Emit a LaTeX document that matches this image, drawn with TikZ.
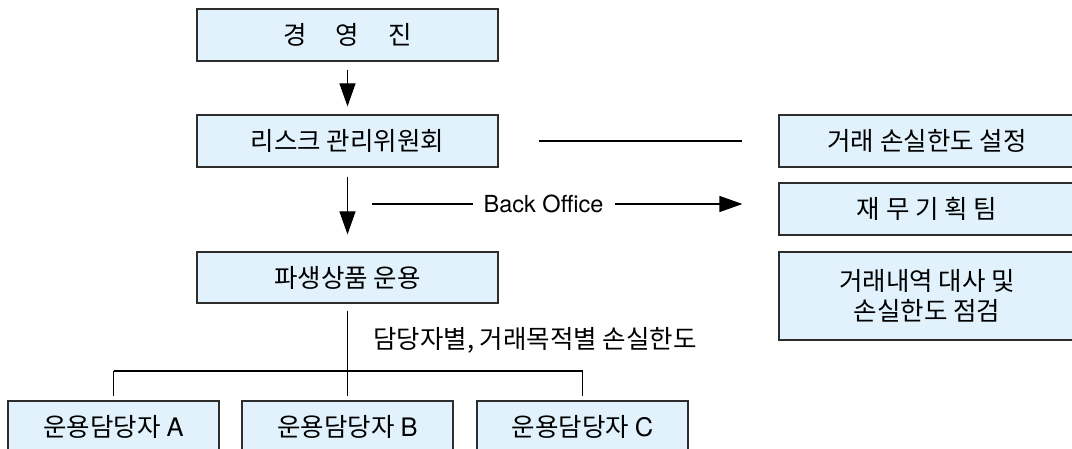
\documentclass[tikz,border=0pt]{standalone}
\usepackage{fontspec}
\setmainfont{TeX Gyre Heros}
\newfontfamily\kr{Noto Sans CJK KR}
\usetikzlibrary{arrows.meta}
\definecolor{boxfill}{RGB}{225,242,252}
\definecolor{boxline}{RGB}{45,45,45}
\tikzset{
  orgbox/.style={draw=boxline, line width=1.2pt, fill=boxfill, rectangle, inner sep=0pt,
    font=\kr\fontsize{25.5}{30}\selectfont, align=center, anchor=center},
  conn/.style={line width=1.2pt, draw=black},
  arr/.style={conn, -{Triangle[length=23pt,width=16pt]}},
  lbl/.style={font=\kr\fontsize{25.5}{30}\selectfont, inner sep=0pt}
}
\newcommand{\lat}[1]{{\fontspec{TeX Gyre Heros}#1}}
\begin{document}
\begin{tikzpicture}[x=1pt,y=-1pt]
\useasboundingbox (0,0) rectangle (1072,449);
\clip (0,0) rectangle (1072,449);
\node[orgbox, minimum width=301pt, minimum height=52pt] (top) at (347.5,35) {경\hspace{29pt}영\hspace{29pt}진};
\node[orgbox, minimum width=301pt, minimum height=52pt] (rk) at (347.5,141) {리스크 관리위원회};
\node[orgbox, minimum width=301pt, minimum height=51pt] (pa) at (347.5,277.5) {파생상품 운용};
\node[orgbox, minimum width=211pt, minimum height=52pt] (A) at (113.5,427) {운용담당자 \lat{A}};
\node[orgbox, minimum width=211pt, minimum height=52pt] (B) at (347.5,427) {운용담당자 \lat{B}};
\node[orgbox, minimum width=211pt, minimum height=52pt] (C) at (582.5,427) {운용담당자 \lat{C}};
\node[orgbox, minimum width=296pt, minimum height=52pt] (lim) at (927,141) {거래 손실한도 설정};
\node[orgbox, minimum width=296pt, minimum height=52pt] (fin) at (927,209) {재 무 기 획 팀};
\node[orgbox, minimum width=296pt, minimum height=88pt] (chk) at (927,296) {거래내역 대사 및\\손실한도 점검};
\node[font=\fontsize{23.5}{26}\selectfont, inner sep=0pt] (bo) at (543.5,204) {Back Office};
\node[lbl, anchor=west] (lmt) at (373,340) {담당자별, 거래목적별 손실한도};
\coordinate (bostart) at (372,204);
\coordinate (bus) at (347.5,371);
\draw[arr, shorten <=8pt, shorten >=8pt] (top.south) -- (rk.north);
\draw[arr, shorten <=9pt, shorten >=17pt] (rk.south) -- (pa.north);
\draw[conn, shorten <=40pt, shorten >=36pt] (rk.east) -- (lim.west);
\draw[conn, shorten >=10pt] (bostart) -- (bo.west);
\draw[arr, shorten <=11pt, shorten >=36pt] (bo.east) -- (fin.west |- bo.east);
\draw[conn, shorten <=7pt] (pa.south) -- (bus);
\draw[conn] (A.north |- bus) -- (C.north |- bus);
\draw[conn, shorten >=4pt] (A.north |- bus) -- (A.north);
\draw[conn, shorten >=4pt] (bus) -- (B.north);
\draw[conn, shorten >=4pt] (C.north |- bus) -- (C.north);
\end{tikzpicture}
\end{document}
